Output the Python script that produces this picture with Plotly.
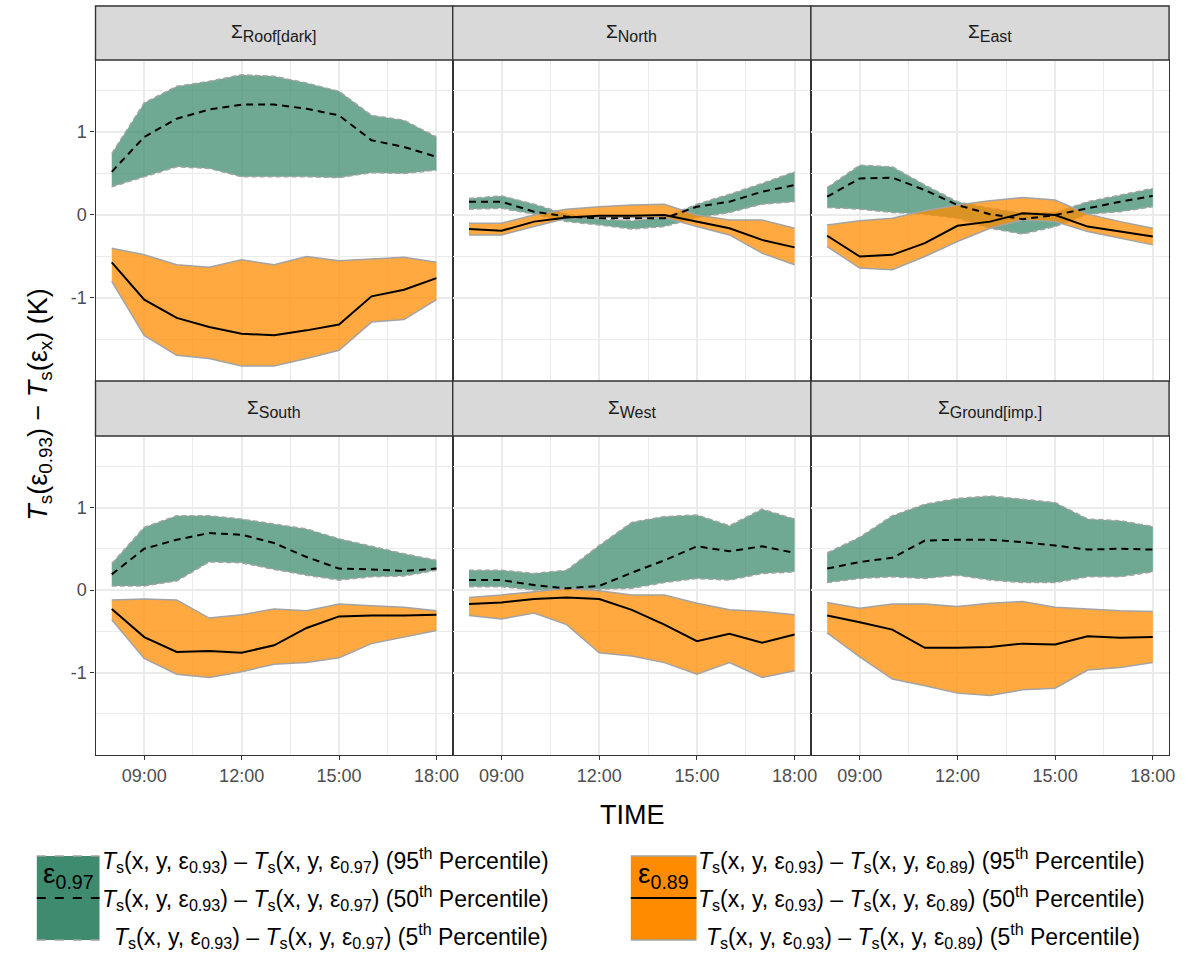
import plotly.graph_objects as go

# ---------------- data ----------------
hours = list(range(8, 19))
time_ticks = [9, 12, 15, 18]
time_labels = ["09:00", "12:00", "15:00", "18:00"]
y_ticks = [-1, 0, 1]
y_labels = ["-1", "0", "1"]
panels = ["Roof[dark]", "North", "East", "South", "West", "Ground[imp.]"]

# T(0.93) - T(0.97): 95th, 50th, 5th percentiles
e097_p95 = {
    "Roof[dark]":   [0.74, 1.35, 1.55, 1.61, 1.69, 1.67, 1.59, 1.49, 1.20, 1.14, 0.94],
    "North":        [0.20, 0.23, 0.13, 0.01, -0.05, -0.07, -0.03, 0.13, 0.25, 0.38, 0.52],
    "East":         [0.33, 0.60, 0.58, 0.36, 0.16, 0.08, 0.02, 0.03, 0.16, 0.24, 0.32],
    "South":        [0.32, 0.76, 0.90, 0.90, 0.86, 0.80, 0.74, 0.62, 0.53, 0.44, 0.36],
    "West":         [0.24, 0.24, 0.20, 0.24, 0.54, 0.82, 0.89, 0.91, 0.78, 0.98, 0.86],
    "Ground[imp.]": [0.45, 0.64, 0.90, 1.04, 1.11, 1.14, 1.10, 1.06, 0.86, 0.84, 0.77],
}
e097_p50 = {
    "Roof[dark]":   [0.52, 0.94, 1.16, 1.27, 1.33, 1.33, 1.28, 1.20, 0.90, 0.82, 0.70],
    "North":        [0.16, 0.16, 0.04, -0.02, -0.04, -0.04, -0.04, 0.10, 0.16, 0.28, 0.36],
    "East":         [0.22, 0.44, 0.45, 0.30, 0.12, 0.01, -0.05, 0.00, 0.08, 0.16, 0.23],
    "South":        [0.19, 0.50, 0.61, 0.69, 0.67, 0.57, 0.40, 0.26, 0.25, 0.23, 0.26],
    "West":         [0.12, 0.12, 0.06, 0.02, 0.05, 0.21, 0.36, 0.53, 0.47, 0.53, 0.45],
    "Ground[imp.]": [0.26, 0.34, 0.39, 0.60, 0.61, 0.61, 0.58, 0.54, 0.49, 0.50, 0.49],
}
e097_p05 = {
    "Roof[dark]":   [0.34, 0.46, 0.58, 0.56, 0.46, 0.46, 0.46, 0.45, 0.51, 0.50, 0.54],
    "North":        [0.07, 0.08, 0.01, -0.08, -0.12, -0.17, -0.14, -0.03, 0.03, 0.13, 0.16],
    "East":         [0.09, 0.07, 0.03, 0.01, -0.04, -0.16, -0.23, -0.14, 0.01, 0.04, 0.10],
    "South":        [0.05, 0.05, 0.11, 0.34, 0.33, 0.25, 0.18, 0.12, 0.16, 0.17, 0.24],
    "West":         [0.04, 0.04, 0.00, 0.00, 0.01, 0.02, 0.09, 0.14, 0.12, 0.20, 0.22],
    "Ground[imp.]": [0.09, 0.14, 0.16, 0.14, 0.18, 0.12, 0.09, 0.09, 0.16, 0.16, 0.22],
}

# T(0.93) - T(0.89): 95th, 50th, 5th percentiles
e089_p95 = {
    "Roof[dark]":   [-0.40, -0.48, -0.60, -0.63, -0.54, -0.60, -0.50, -0.55, -0.53, -0.51, -0.57],
    "North":        [-0.10, -0.10, 0.00, 0.07, 0.10, 0.12, 0.13, 0.00, -0.06, -0.06, -0.16],
    "East":         [-0.12, -0.07, -0.04, 0.05, 0.12, 0.17, 0.21, 0.18, 0.01, -0.08, -0.16],
    "South":        [-0.12, -0.11, -0.12, -0.34, -0.30, -0.23, -0.25, -0.17, -0.19, -0.21, -0.25],
    "West":         [-0.09, -0.06, -0.02, 0.02, -0.01, -0.06, -0.06, -0.16, -0.24, -0.26, -0.30],
    "Ground[imp.]": [-0.15, -0.22, -0.17, -0.17, -0.20, -0.16, -0.14, -0.21, -0.23, -0.25, -0.26],
}
e089_p50 = {
    "Roof[dark]":   [-0.57, -1.02, -1.24, -1.35, -1.43, -1.45, -1.39, -1.32, -0.98, -0.90, -0.76],
    "North":        [-0.17, -0.19, -0.08, -0.03, -0.01, -0.01, 0.00, -0.08, -0.16, -0.30, -0.39],
    "East":         [-0.25, -0.50, -0.48, -0.34, -0.13, -0.08, 0.02, 0.00, -0.14, -0.20, -0.26],
    "South":        [-0.23, -0.57, -0.75, -0.74, -0.76, -0.67, -0.46, -0.32, -0.31, -0.31, -0.30],
    "West":         [-0.17, -0.15, -0.11, -0.09, -0.11, -0.24, -0.42, -0.62, -0.53, -0.64, -0.54],
    "Ground[imp.]": [-0.31, -0.39, -0.48, -0.70, -0.70, -0.69, -0.65, -0.66, -0.56, -0.58, -0.57],
}
e089_p05 = {
    "Roof[dark]":   [-0.80, -1.45, -1.69, -1.73, -1.82, -1.82, -1.73, -1.63, -1.29, -1.26, -1.02],
    "North":        [-0.24, -0.24, -0.14, -0.04, -0.03, -0.03, -0.03, -0.14, -0.24, -0.46, -0.60],
    "East":         [-0.38, -0.64, -0.66, -0.50, -0.32, -0.16, -0.06, -0.08, -0.20, -0.28, -0.36],
    "South":        [-0.36, -0.83, -1.02, -1.06, -0.99, -0.90, -0.88, -0.82, -0.65, -0.57, -0.49],
    "West":         [-0.31, -0.35, -0.28, -0.42, -0.76, -0.80, -0.88, -1.02, -0.88, -1.06, -0.98],
    "Ground[imp.]": [-0.52, -0.81, -1.08, -1.16, -1.25, -1.28, -1.21, -1.19, -0.97, -0.94, -0.88],
}

# ---------------- styling ----------------
W, H = 1191, 955
FONT = "Liberation Sans"
GREEN_FILL = "rgba(63,139,111,0.75)"
ORANGE_FILL = "rgba(255,140,0,0.75)"
GREEN_KEY = "rgb(63,139,111)"
ORANGE_KEY = "rgb(255,140,0)"
EDGE = "#A3A3A3"
BORDER = "#333333"
GRID = "#EBEBEB"


def fx(x):
    return x / W


def fy(y):
    return 1 - y / H


cols = [(96, 455), (455, 815), (815, 1175)]
rows = [(60, 381), (436, 755)]
strips = [(6, 60), (381, 436)]

fig = go.Figure()
shapes = []
annotations = []
layout_axes = {}

for i, name in enumerate(panels):
    r, c = divmod(i, 3)
    n = i + 1
    xa = "x" if n == 1 else f"x{n}"
    ya = "y" if n == 1 else f"y{n}"

    # green ribbon
    fig.add_trace(go.Scatter(x=hours, y=e097_p05[name], mode="lines",
                             line=dict(color=EDGE, width=1.5, dash="5px,3px"),
                             xaxis=xa, yaxis=ya, showlegend=False, hoverinfo="skip"))
    fig.add_trace(go.Scatter(x=hours, y=e097_p95[name], mode="lines", fill="tonexty",
                             fillcolor=GREEN_FILL,
                             line=dict(color=EDGE, width=1.5, dash="5px,3px"),
                             xaxis=xa, yaxis=ya, showlegend=False, hoverinfo="skip"))
    # orange ribbon
    fig.add_trace(go.Scatter(x=hours, y=e089_p05[name], mode="lines",
                             line=dict(color=EDGE, width=1.5),
                             xaxis=xa, yaxis=ya, showlegend=False, hoverinfo="skip"))
    fig.add_trace(go.Scatter(x=hours, y=e089_p95[name], mode="lines", fill="tonexty",
                             fillcolor=ORANGE_FILL,
                             line=dict(color=EDGE, width=1.5),
                             xaxis=xa, yaxis=ya, showlegend=False, hoverinfo="skip"))
    # medians
    fig.add_trace(go.Scatter(x=hours, y=e097_p50[name], mode="lines",
                             line=dict(color="black", width=2, dash="7px,5px"),
                             xaxis=xa, yaxis=ya, showlegend=False, hoverinfo="skip"))
    fig.add_trace(go.Scatter(x=hours, y=e089_p50[name], mode="lines",
                             line=dict(color="black", width=2),
                             xaxis=xa, yaxis=ya, showlegend=False, hoverinfo="skip"))

    x0, x1 = cols[c]
    y0, y1 = rows[r]
    bottom = (r == 1)
    left = (c == 0)

    layout_axes["xaxis" if n == 1 else f"xaxis{n}"] = dict(
        domain=[fx(x0), fx(x1)], anchor=ya, range=[7.5, 18.5],
        tickmode="array", tickvals=time_ticks, ticktext=time_labels,
        showticklabels=bottom, ticks="outside" if bottom else "",
        ticklen=4, tickwidth=1.2, tickcolor=BORDER,
        tickfont=dict(family=FONT, size=18, color="#4D4D4D"),
        showgrid=True, gridcolor=GRID, gridwidth=1.6,
        minor=dict(tickmode="array", tickvals=[10.5, 13.5, 16.5],
                   showgrid=True, gridcolor=GRID, gridwidth=1.1, ticks=""),
        showline=True, mirror=True, linecolor=BORDER, linewidth=1.4,
        zeroline=False, fixedrange=True,
    )
    layout_axes["yaxis" if n == 1 else f"yaxis{n}"] = dict(
        domain=[fy(y1), fy(y0)], anchor=xa, range=[-2.0, 1.867],
        tickmode="array", tickvals=y_ticks, ticktext=y_labels,
        showticklabels=left, ticks="outside" if left else "",
        ticklen=4, tickwidth=1.2, tickcolor=BORDER,
        tickfont=dict(family=FONT, size=18, color="#4D4D4D"),
        showgrid=True, gridcolor=GRID, gridwidth=1.6,
        minor=dict(tickmode="array", tickvals=[-1.5, -0.5, 0.5, 1.5],
                   showgrid=True, gridcolor=GRID, gridwidth=1.1, ticks=""),
        showline=True, mirror=True, linecolor=BORDER, linewidth=1.4,
        zeroline=False, fixedrange=True,
    )

    # strip
    s0, s1 = strips[r]
    shapes.append(dict(type="rect", xref="paper", yref="paper",
                       x0=fx(x0), x1=fx(x1), y0=fy(s1), y1=fy(s0),
                       fillcolor="#D9D9D9", line=dict(color=BORDER, width=1.4), layer="above"))
    annotations.append(dict(xref="paper", yref="paper", x=fx((x0 + x1) / 2), y=fy((s0 + s1) / 2),
                            text=f"Σ<sub><span style='font-size:16px'>{name}</span></sub>",
                            showarrow=False,
                            font=dict(family=FONT, size=19, color="#1A1A1A"),
                            xanchor="center", yanchor="middle"))

# axis titles
annotations.append(dict(xref="paper", yref="paper", x=fx(636), y=fy(815), text="TIME",
                        showarrow=False, font=dict(family=FONT, size=27, color="black"),
                        xanchor="center", yanchor="middle"))
annotations.append(dict(xref="paper", yref="paper", x=fx(40), y=fy(405),
                        text="<i>T</i><sub>s</sub>(ε<sub>0.93</sub>) − <i>T</i><sub>s</sub>(ε<sub>x</sub>) (K)",
                        showarrow=False, textangle=-90,
                        font=dict(family=FONT, size=27, color="black"),
                        xanchor="center", yanchor="middle"))

# ---------------- custom legend ----------------
def legend_key(xl, xr, yt, yb, fill, dash_edge, dash_mid, label):
    shapes.append(dict(type="rect", xref="paper", yref="paper",
                       x0=fx(xl), x1=fx(xr), y0=fy(yb), y1=fy(yt),
                       fillcolor=fill, line=dict(width=0)))
    for yy in (yt, yb):
        shapes.append(dict(type="line", xref="paper", yref="paper",
                           x0=fx(xl), x1=fx(xr), y0=fy(yy), y1=fy(yy),
                           line=dict(color=EDGE, width=1.5, dash=dash_edge)))
    ym = (yt + yb) / 2
    shapes.append(dict(type="line", xref="paper", yref="paper",
                       x0=fx(xl), x1=fx(xr), y0=fy(ym), y1=fy(ym),
                       line=dict(color="black", width=2, dash=dash_mid)))
    annotations.append(dict(xref="paper", yref="paper", x=fx((xl + xr) / 2), y=fy(yt + 19),
                            text=label, showarrow=False,
                            font=dict(family=FONT, size=28, color="black"),
                            xanchor="center", yanchor="middle"))


legend_key(37, 100, 856, 940, GREEN_KEY, "dash", "dash", "ε<sub>0.97</sub>")
legend_key(634, 700, 856, 940, ORANGE_KEY, "solid", "solid", "ε<sub>0.89</sub>")


def legend_text(x, y, eps, pct):
    annotations.append(dict(
        xref="paper", yref="paper", x=fx(x), y=fy(y),
        text=(f"<i>T</i><sub>s</sub>(x, y, ε<sub>0.93</sub>) – <i>T</i><sub>s</sub>(x, y, ε<sub>{eps}</sub>) "
              f"({pct}<sup>th</sup> Percentile)"),
        showarrow=False, font=dict(family=FONT, size=23, color="black"),
        xanchor="left", yanchor="middle"))


for eps, xs in (("0.97", (101, 101, 113)), ("0.89", (700, 700, 708))):
    legend_text(xs[0], 860, eps, "95")
    legend_text(xs[1], 898, eps, "50")
    legend_text(xs[2], 936, eps, "5")

fig.update_layout(
    width=W, height=H,
    margin=dict(l=0, r=0, t=0, b=0),
    paper_bgcolor="white", plot_bgcolor="white",
    showlegend=False,
    shapes=shapes, annotations=annotations,
    font=dict(family=FONT),
    **layout_axes,
)

fig.write_html(
    "out.html",
    config={"displayModeBar": False},
    post_script="document.body.style.margin='0';document.body.style.overflow='hidden';",
)
